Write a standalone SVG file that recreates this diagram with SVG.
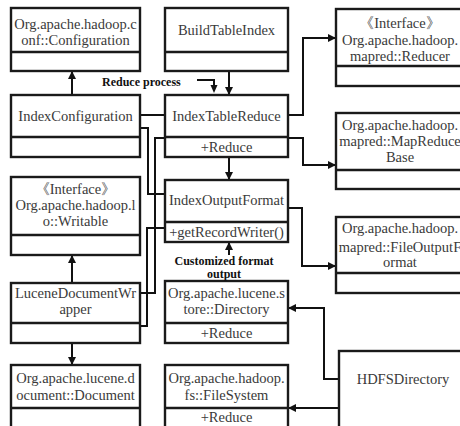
<svg xmlns="http://www.w3.org/2000/svg" width="460" height="426" viewBox="0 0 460 426">
  <defs>
    <marker id="arr" viewBox="0 0 10 10" refX="10" refY="5" markerWidth="8" markerHeight="8" markerUnits="userSpaceOnUse" orient="auto">
      <path d="M0,0 L10,5 L0,10 Z" fill="#111"/>
    </marker>
  </defs>
  <style>
    .box { fill: #fff; stroke: #1a1a1a; stroke-width: 2.4; }
    .div { stroke: #1a1a1a; stroke-width: 2.4; fill: none; }
    .t { font-family: "Liberation Serif", "DejaVu Serif", "Times New Roman", serif; font-size: 14.5px; fill: #3a3a3a; text-anchor: middle; }
    .lbl { font-family: "Liberation Serif", "DejaVu Serif", "Times New Roman", serif; font-size: 12px; font-weight: bold; fill: #111; }
    .c { stroke: #111; stroke-width: 2; fill: none; }
    .ca { stroke: #111; stroke-width: 2; fill: none; marker-end: url(#arr); }
  </style>
  <rect width="460" height="426" fill="#fff"/>

  <!-- connectors -->
  <g id="connectors">
    <path class="ca" d="M72,95 V71"/>
    <path class="ca" d="M229,71 V95"/>
    <path class="c" d="M197,80 H214 V86"/>
    <path d="M214,93 L210.5,85 L217.5,85 Z" fill="#111"/>
    <path class="ca" d="M288,115 H303 V38 H336"/>
    <path class="ca" d="M288,138 H303 V165 H336"/>
    <path class="c" d="M140,115 H165"/>
    <path class="c" d="M140,128 H148 V194 H165"/>
    <path class="c" d="M140,293 H155 V138 H165"/>
    <path class="c" d="M140,326 H147 V228 H165"/>
    <path class="ca" d="M229,157 V180"/>
    <path class="ca" d="M229,255 V242"/>
    <path class="ca" d="M288,208 H302 V266 H336"/>
    <path class="ca" d="M72,283 V255"/>
    <path class="ca" d="M72,343 V365"/>
    <path class="ca" d="M339,379 H324 V308 H288"/>
    <path class="ca" d="M460,408 H288"/>
  </g>

  <!-- left column -->
  <g id="conf-configuration">
    <rect class="box" x="11" y="8" width="129" height="63"/>
    <line class="div" x1="11" y1="52" x2="140" y2="52"/>
    <text class="t" x="75.5" y="29">Org.apache.hadoop.c</text>
    <text class="t" x="75.5" y="45">onf::Configuration</text>
  </g>
  <g id="index-configuration">
    <rect class="box" x="11" y="95" width="129" height="62"/>
    <line class="div" x1="11" y1="137" x2="140" y2="137"/>
    <text class="t" x="75.5" y="121">IndexConfiguration</text>
  </g>
  <g id="writable">
    <rect class="box" x="11" y="177" width="129" height="78"/>
    <line class="div" x1="11" y1="235" x2="140" y2="235"/>
    <text class="t" x="75.5" y="194">《Interface》</text>
    <text class="t" x="75.5" y="210">Org.apache.hadoop.l</text>
    <text class="t" x="75.5" y="226">o::Writable</text>
  </g>
  <g id="lucene-document-wrapper">
    <rect class="box" x="11" y="283" width="129" height="60"/>
    <line class="div" x1="11" y1="323" x2="140" y2="323"/>
    <text class="t" x="75.5" y="298">LuceneDocumentWr</text>
    <text class="t" x="75.5" y="314">apper</text>
  </g>
  <g id="lucene-document">
    <rect class="box" x="11" y="365" width="129" height="70"/>
    <line class="div" x1="11" y1="408" x2="140" y2="408"/>
    <text class="t" x="75.5" y="383">Org.apache.lucene.d</text>
    <text class="t" x="75.5" y="400">ocument::Document</text>
  </g>

  <!-- middle column -->
  <g id="build-table-index">
    <rect class="box" x="165" y="8" width="123" height="63"/>
    <line class="div" x1="165" y1="52" x2="288" y2="52"/>
    <text class="t" x="226.5" y="35">BuildTableIndex</text>
  </g>
  <g id="index-table-reduce">
    <rect class="box" x="165" y="95" width="123" height="62"/>
    <line class="div" x1="165" y1="137" x2="288" y2="137"/>
    <text class="t" x="226.5" y="121">IndexTableReduce</text>
    <text class="t" x="226.5" y="152">+Reduce</text>
  </g>
  <g id="index-output-format">
    <rect class="box" x="165" y="180" width="123" height="62"/>
    <line class="div" x1="165" y1="222" x2="288" y2="222"/>
    <text class="t" x="226.5" y="205">IndexOutputFormat</text>
    <text class="t" x="226.5" y="237">+getRecordWriter()</text>
  </g>
  <g id="lucene-directory">
    <rect class="box" x="165" y="281" width="123" height="62"/>
    <line class="div" x1="165" y1="323" x2="288" y2="323"/>
    <text class="t" x="226.5" y="298">Org.apache.lucene.s</text>
    <text class="t" x="226.5" y="314">tore::Directory</text>
    <text class="t" x="226.5" y="338">+Reduce</text>
  </g>
  <g id="hadoop-filesystem">
    <rect class="box" x="165" y="365" width="123" height="70"/>
    <line class="div" x1="165" y1="408" x2="288" y2="408"/>
    <text class="t" x="226.5" y="383">Org.apache.hadoop.</text>
    <text class="t" x="226.5" y="400">fs::FileSystem</text>
    <text class="t" x="226.5" y="422">+Reduce</text>
  </g>

  <!-- right column -->
  <g id="reducer">
    <rect class="box" x="336" y="9" width="130" height="77"/>
    <line class="div" x1="336" y1="66" x2="466" y2="66"/>
    <text class="t" x="400" y="28">《Interface》</text>
    <text class="t" x="400" y="45">Org.apache.hadoop.</text>
    <text class="t" x="400" y="61">mapred::Reducer</text>
  </g>
  <g id="map-reduce-base">
    <rect class="box" x="336" y="113" width="130" height="76"/>
    <line class="div" x1="336" y1="170" x2="466" y2="170"/>
    <text class="t" x="400" y="130">Org.apache.hadoop.</text>
    <text class="t" x="400" y="146">mapred::MapReduce</text>
    <text class="t" x="400" y="162">Base</text>
  </g>
  <g id="file-output-format">
    <rect class="box" x="336" y="217" width="130" height="76"/>
    <line class="div" x1="336" y1="273" x2="466" y2="273"/>
    <text class="t" x="400" y="233">Org.apache.hadoop.</text>
    <text class="t" x="400" y="252">mapred::FileOutputF</text>
    <text class="t" x="400" y="267">ormat</text>
  </g>
  <g id="hdfs-directory">
    <rect class="box" x="339" y="351" width="130" height="85"/>
    <text class="t" x="403" y="384">HDFSDirectory</text>
  </g>

  <!-- annotations -->
  <text class="lbl" x="102" y="86">Reduce process</text>
  <text class="lbl" x="224" y="265" text-anchor="middle">Customized format</text>
  <text class="lbl" x="224" y="278" text-anchor="middle">output</text>
</svg>
